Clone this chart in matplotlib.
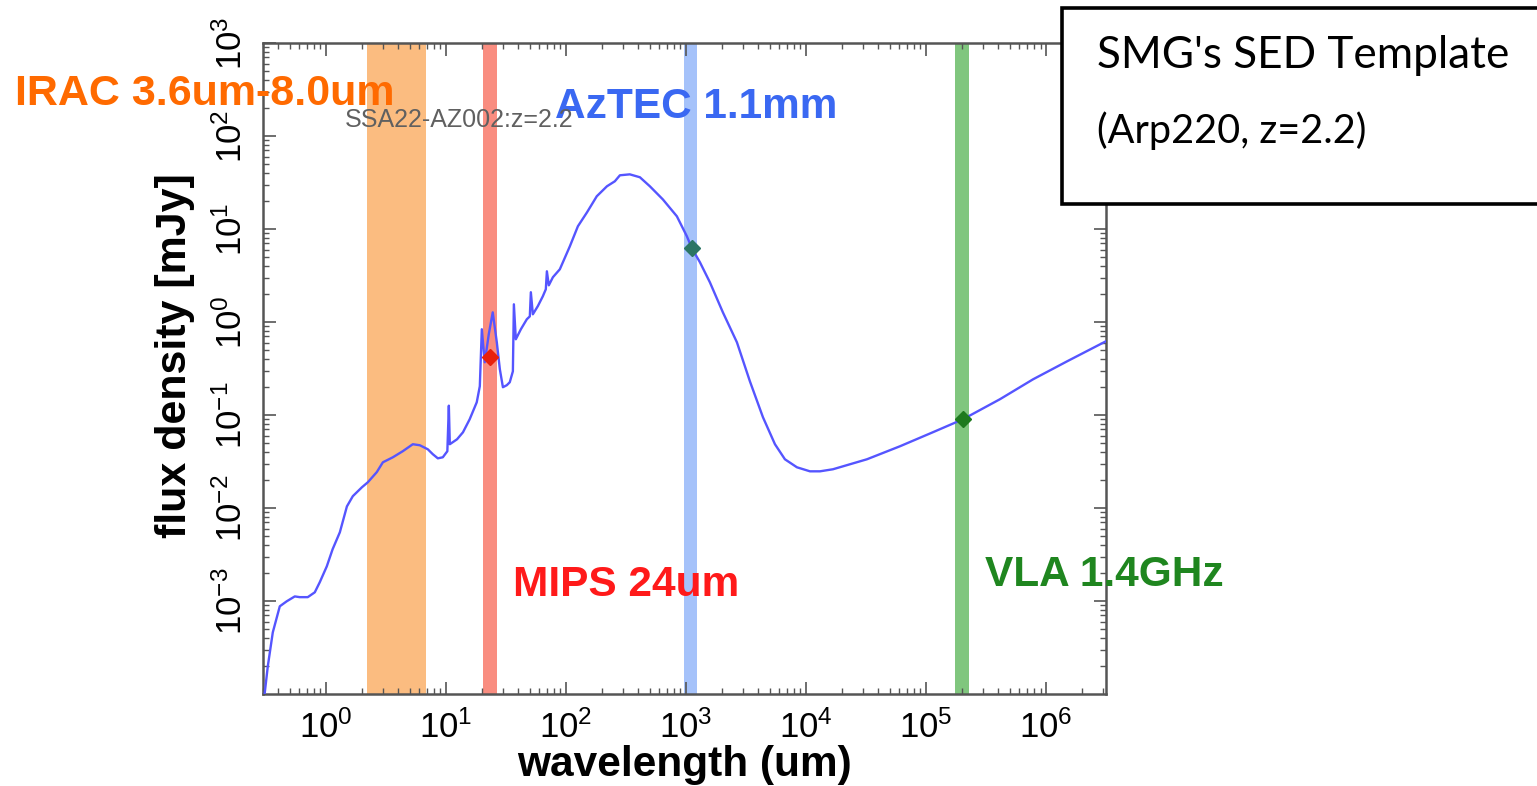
import matplotlib
matplotlib.use('Agg')
import matplotlib.pyplot as plt
from matplotlib.patches import Rectangle
from matplotlib.ticker import LogLocator, NullFormatter

plt.rcParams['font.family'] = ['Liberation Sans', 'DejaVu Sans']
plt.rcParams['mathtext.default'] = 'regular'

# SED template (Arp220 shifted to z=2.2)
wavelength = [0.310, 0.329, 0.362, 0.414, 0.473, 0.552, 0.607, 0.708, 0.810, 0.891,
              1.02, 1.14, 1.31, 1.50, 1.68, 2.00, 2.24, 2.66, 2.99, 3.62,
              4.38, 5.31, 6.07, 7.08, 7.79, 8.58, 9.44, 10.3, 10.6, 10.8,
              12.4, 13.9, 15.8, 18.1, 19.2, 19.95, 21.1, 22.8, 24.6, 26.6,
              28.2, 29.9, 32.2, 34.1, 36.2, 36.9, 38.3, 42.2, 47.3, 50.1,
              51.1, 53.1, 58.4, 64.3, 68.1, 69.5, 72.1, 78.0, 89.1, 108,
              126, 150, 181, 220, 256, 282, 341, 414, 501, 643,
              841, 1019, 1122, 1309, 1585, 2033, 2661, 3415, 4385, 5520,
              6683, 8414, 1.08e4, 1.31e4, 1.68e4, 3.22e4, 6.07e4, 1.14e5, 2.03e5, 4.14e5,
              7.80e5, 1.50e6, 3.16e6]
flux = [1.02e-4, 1.99e-4, 4.60e-4, 8.77e-4, 9.93e-4, 1.12e-3, 1.10e-3, 1.10e-3, 1.24e-3, 1.59e-3,
        2.36e-3, 3.60e-3, 5.48e-3, 1.04e-2, 1.34e-2, 1.67e-2, 1.89e-2, 2.43e-2, 3.10e-2, 3.51e-2,
        4.08e-2, 4.85e-2, 4.73e-2, 4.28e-2, 3.79e-2, 3.42e-2, 3.51e-2, 4.08e-2, 0.126, 4.85e-2,
        5.48e-2, 6.52e-2, 8.99e-2, 0.137, 0.204, 0.836, 0.369, 0.738, 1.27, 0.605,
        0.310, 0.199, 0.209, 0.225, 0.295, 1.55, 0.652, 0.836, 1.07, 1.15,
        2.09, 1.21, 1.48, 1.89, 2.25, 3.51, 2.48, 3.03, 3.69, 6.52,
        10.7, 15.1, 22.5, 28.8, 32.6, 37.8, 38.7, 36.0, 28.8, 20.8,
        13.7, 8.35, 6.20, 4.39, 2.67, 1.27, 0.605, 0.230, 9.46e-2, 4.85e-2,
        3.34e-2, 2.74e-2, 2.48e-2, 2.48e-2, 2.61e-2, 3.34e-2, 4.61e-2, 6.52e-2, 8.99e-2, 0.148,
        0.242, 0.378, 0.621]

# observing bands (um)
irac_band = (2.2, 6.8)
mips_band = (20.3, 26.6)
aztec_band = (962, 1235)
vla_band = (1.75e5, 2.28e5)

# photometry points
phot_wave = [23.3, 1120, 2.03e5]
phot_flux = [0.42, 6.2, 0.09]
phot_colors = ['#e8200c', '#2b7565', '#1e7a1e']

W, H = 1537, 786
fig = plt.figure(figsize=(W / 100, H / 100), dpi=100)
ax = fig.add_axes([263 / W, 1 - 694 / H, (1106 - 263) / W, (694 - 43) / H])

ax.axvspan(*irac_band, color='#fbbc80', lw=0, zorder=1)
ax.axvspan(*mips_band, color='#f98d80', lw=0, zorder=1)
ax.axvspan(*aztec_band, color='#a5c2fa', lw=0, zorder=1)
ax.axvspan(*vla_band, color='#80c67e', lw=0, zorder=1)

ax.plot(wavelength, flux, color='#5555ff', lw=1.7, zorder=3)
for w, f, c in zip(phot_wave, phot_flux, phot_colors):
    ax.plot(w, f, marker='D', ms=8, color=c, mec=c, zorder=4)

ax.set_xscale('log')
ax.set_yscale('log')
ax.set_xlim(0.3, 3.16e6)
ax.set_ylim(1e-4, 1e3)

xt = [1, 10, 1e2, 1e3, 1e4, 1e5, 1e6]
ax.set_xticks(xt)
ax.set_xticklabels([r'$10^{%d}$' % i for i in range(7)], fontsize=25)
yt = [1e-3, 1e-2, 1e-1, 1, 10, 1e2, 1e3]
ax.set_yticks(yt)
ax.set_yticklabels([r'$10^{%d}$' % i for i in range(-3, 4)], fontsize=25,
                   rotation=90, va='center')
ax.xaxis.set_minor_locator(LogLocator(base=10, subs=range(2, 10), numticks=20))
ax.yaxis.set_minor_locator(LogLocator(base=10, subs=range(2, 10), numticks=20))
ax.xaxis.set_minor_formatter(NullFormatter())
ax.yaxis.set_minor_formatter(NullFormatter())

ax.tick_params(which='both', direction='in', top=True, right=True, color='#555555')
ax.tick_params(which='major', length=9, width=1.2)
ax.tick_params(which='minor', length=4.5, width=1)
ax.tick_params(axis='x', which='major', pad=12)
ax.tick_params(axis='y', which='major', pad=10)
for s in ax.spines.values():
    s.set_color('#555555')
    s.set_linewidth(1.8)

ax.set_xlabel('wavelength (um)', fontsize=30.5, fontweight='bold', labelpad=0)
ax.set_ylabel('flux density [mJy]', fontsize=31, fontweight='bold', labelpad=14)
ax.yaxis.label.set_y(0.52)

# band labels
fig.text(15 / W, 1 - 105 / H, 'IRAC 3.6um-8.0um', color='#ff6a00', fontsize=31,
         fontweight='bold', ha='left', va='baseline')
fig.text(345 / W, 1 - 127 / H, 'SSA22-AZ002:z=2.2', color='#606060', fontsize=18,
         ha='left', va='baseline', zorder=5)
fig.text(555 / W, 1 - 118 / H, 'AzTEC 1.1mm', color='#3a68f2', fontsize=30.5,
         fontweight='bold', ha='left', va='baseline')
fig.text(513 / W, 1 - 596 / H, 'MIPS 24um', color='#ff1a1a', fontsize=30.5,
         fontweight='bold', ha='left', va='baseline')
fig.text(985 / W, 1 - 586 / H, 'VLA 1.4GHz', color='#1f861f', fontsize=30.5,
         fontweight='bold', ha='left', va='baseline')

# template box in upper right
box = Rectangle((1062 / W, 1 - 204 / H), (W + 10 - 1062) / W, (204 - 8) / H,
                transform=fig.transFigure, facecolor='white', edgecolor='black',
                lw=2.6, zorder=10, clip_on=False)
fig.add_artist(box)
fig.text(1097 / W, 1 - 68 / H, "SMG's SED Template", fontsize=31.8, family='Lato',
         ha='left', va='baseline', zorder=11)
fig.text(1097 / W, 1 - 143 / H, '(Arp220, z=2.2)', fontsize=28.5, family='Lato',
         ha='left', va='baseline', zorder=11)

fig.savefig('out.png', dpi=100)
